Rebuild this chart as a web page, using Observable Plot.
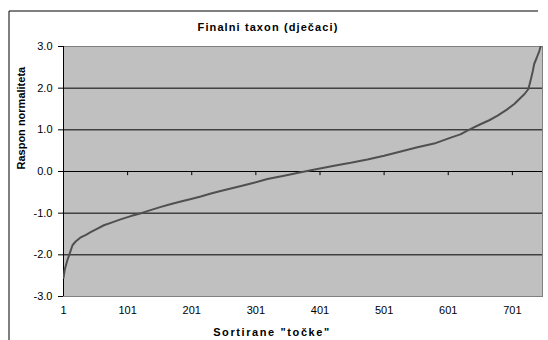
<!DOCTYPE html>
<html><head><meta charset="utf-8">
<script src="https://cdn.jsdelivr.net/npm/d3@7"></script>
<script src="https://cdn.jsdelivr.net/npm/@observablehq/plot@0.6"></script>
<style>body{margin:0;background:#fff} #chart{width:548px;height:340px}</style>
</head><body><div id="chart"></div>
<script>
const pointIndex = [1,3,7,10,15,20,28,36,44,54,64,77,90,106,122,138,153,169,184,200,215,231,246,262,278,298,319,345,371,397,423,449,475,501,527,553,579,606,620,633,652,665,678,693,704,714,720,726,730,733,735,739,743,745,748];
const normValue = [-2.55,-2.35,-2.13,-2.0,-1.77,-1.68,-1.58,-1.52,-1.45,-1.37,-1.29,-1.22,-1.15,-1.07,-1.0,-0.92,-0.85,-0.78,-0.72,-0.66,-0.60,-0.53,-0.47,-0.41,-0.35,-0.27,-0.18,-0.10,-0.02,0.06,0.14,0.21,0.29,0.38,0.48,0.58,0.67,0.82,0.89,1.0,1.14,1.23,1.34,1.49,1.62,1.77,1.86,1.98,2.22,2.42,2.58,2.73,2.89,3.0,3.15];
const xTickLabels = [1,101,201,301,401,501,601,701];
const yTickLabels = [-3,-2,-1,0,1,2,3];
const gridValues = [-2,-1,1,2];
const titleText = "Finalni taxon (dječaci)";
const xTitle = "Sortirane \"točke\"";
const yTitle = "Raspon normaliteta";

const data = pointIndex.map((i, k) => ({i, v: normValue[k]}));
const font = "Liberation Sans, Arial, sans-serif";

const chart = Plot.plot({
  width: 548, height: 340,
  marginLeft: 63, marginRight: 6, marginTop: 46, marginBottom: 44,
  style: {fontFamily: font, fontSize: "11px", background: "#fff", color: "#000"},
  x: {domain: [1, 748]},
  y: {domain: [-3, 3]},
  marks: [
    Plot.frame({fill: "#c0c0c0", stroke: "#808080"}),
    Plot.ruleY(gridValues, {stroke: "#000", strokeWidth: 1}),
    Plot.ruleY([0], {stroke: "#000"}),
    Plot.ruleX(xTickLabels, {y1: 0, y2: -0.1, stroke: "#000"}),
    Plot.ruleX([1], {stroke: "#000"}),
    Plot.line(data, {x: "i", y: "v", stroke: "#505050", strokeWidth: 2, clip: true}),
    Plot.axisY({ticks: yTickLabels, tickFormat: d => d.toFixed(1), tickSize: 5, tickPadding: 6, label: null, fontSize: 11}),
    Plot.axisX({ticks: xTickLabels, tickFormat: d => String(d), tickSize: 0, tickPadding: 10, label: null, fontSize: 11}),
    Plot.text([titleText], {frameAnchor: "top", dy: -19, dx: -35, lineAnchor: "middle", fontWeight: "bold", fontSize: 11}),
    Plot.text([xTitle], {frameAnchor: "bottom", dy: 36, dx: -31, lineAnchor: "middle", fontWeight: "bold", fontSize: 11}),
    Plot.text([yTitle], {frameAnchor: "left", dx: -42, dy: -2, rotate: -90, lineAnchor: "middle", fontWeight: "bold", fontSize: 11})
  ]
});

const svg = d3.select(chart);
svg.selectAll("text").filter(function() { return this.textContent === titleText; }).attr("letter-spacing", "1.1px");
svg.selectAll("text").filter(function() { return this.textContent === xTitle; }).attr("letter-spacing", "1.6px");
svg.append("line").attr("x1", 9).attr("y1", 11).attr("x2", 538).attr("y2", 11).attr("stroke", "#000");
svg.append("line").attr("x1", 9).attr("y1", 11).attr("x2", 9).attr("y2", 340).attr("stroke", "#000");
document.getElementById("chart").appendChild(chart);
</script></body></html>
